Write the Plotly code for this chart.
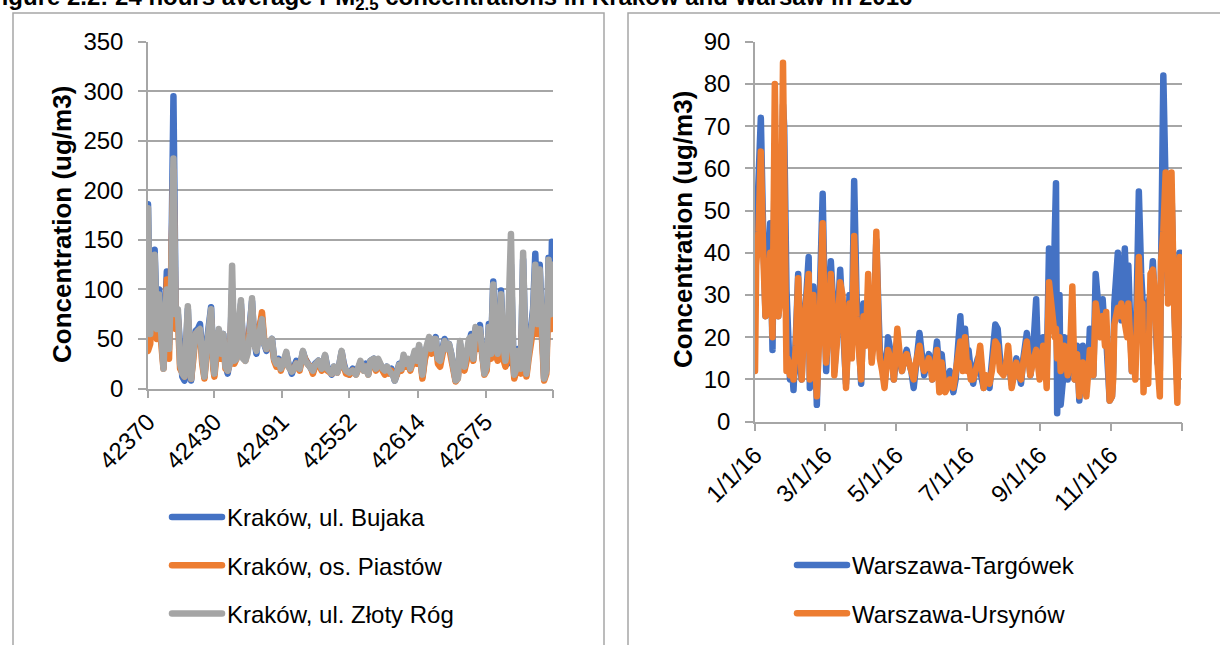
import plotly.graph_objects as go
import pandas as pd

W, H = 1220, 645
FONT = "Liberation Sans"
BLUE, ORANGE, GRAY = "#4472C4", "#ED7D31", "#A5A5A5"
GRID = "#A6A6A6"

# ---------------- Kraków (day offsets from Excel serial 42370 = 2016-01-01) ----------------
krk_days = [0, 2, 4, 6, 8, 10, 12, 14, 16, 17,
            19, 21, 23, 25, 27, 29, 31, 33, 36, 38,
            39, 41, 43, 45, 47, 49, 51, 53, 55, 57,
            59, 60, 62, 64, 66, 68, 70, 72, 74, 76,
            78, 80, 82, 84, 86, 88, 90, 92, 94, 96,
            98, 100, 103, 105, 107, 110, 112, 114, 116, 118,
            120, 122, 125, 127, 130, 132, 134, 137, 140, 142,
            144, 147, 149, 151, 154, 157, 160, 162, 164, 166,
            168, 171, 173, 175, 177, 179, 182, 185, 188, 190,
            192, 195, 197, 199, 201, 204, 206, 208, 210, 212,
            214, 216, 218, 220, 222, 223, 225, 227, 229, 231,
            233, 235, 237, 239, 241, 243, 245, 247, 248, 250,
            252, 254, 256, 258, 260, 262, 264, 266, 268, 270,
            272, 274, 276, 278, 280, 282, 284, 286, 288, 290,
            292, 294, 296, 298, 300, 302, 304, 306, 308, 310,
            312, 314, 316, 318, 319, 321, 323, 325, 328, 330,
            331, 333, 335, 337, 339, 341, 342, 344, 346, 348,
            350, 352, 354, 356, 358, 360, 362, 364, 365]

krk_bujaka = [186, 60, 110, 140, 70, 100, 60, 22, 90, 118,
              45, 120, 295, 80, 75, 30, 12, 8, 80, 15,
              8, 40, 58, 60, 65, 35, 12, 45, 60, 82,
              30, 15, 50, 58, 40, 55, 25, 15, 30, 100,
              30, 35, 60, 85, 40, 30, 40, 60, 88, 50,
              35, 60, 72, 45, 38, 45, 50, 30, 25, 30,
              20, 25, 35, 25, 15, 22, 28, 20, 37, 30,
              27, 22, 17, 25, 28, 20, 33, 22, 18, 14,
              22, 18, 25, 37, 25, 17, 14, 20, 15, 22,
              26, 20, 25, 15, 28, 30, 20, 28, 24, 20,
              16, 22, 17, 20, 10, 8, 15, 25, 20, 32,
              24, 28, 20, 30, 36, 28, 42, 25, 12, 30,
              45, 50, 38, 48, 52, 30, 25, 40, 50, 42,
              45, 35, 22, 8, 12, 45, 30, 20, 32, 48,
              55, 35, 60, 48, 64, 35, 18, 20, 65, 40,
              108, 50, 40, 75, 99, 50, 30, 25, 125, 40,
              12, 25, 40, 20, 130, 45, 15, 40, 62, 80,
              136, 70, 125, 40, 10, 20, 132, 80, 148]

krk_piastow = [38, 45, 80, 70, 50, 75, 45, 20, 60, 110,
               30, 100, 220, 60, 70, 20, 15, 12, 70, 10,
               10, 30, 55, 50, 55, 25, 10, 35, 50, 70,
               20, 12, 35, 50, 30, 50, 20, 18, 25, 95,
               25, 30, 55, 80, 35, 28, 40, 55, 80, 45,
               40, 55, 77, 50, 40, 45, 45, 28, 22, 28,
               18, 25, 33, 22, 18, 20, 25, 18, 35, 30,
               25, 22, 15, 22, 26, 18, 30, 18, 17, 15,
               20, 16, 22, 35, 22, 15, 14, 18, 14, 20,
               25, 18, 22, 14, 25, 28, 18, 26, 22, 18,
               14, 20, 15, 18, 12, 10, 14, 22, 18, 30,
               22, 26, 18, 25, 32, 25, 40, 20, 10, 28,
               40, 48, 35, 45, 45, 25, 22, 38, 45, 40,
               42, 30, 18, 7, 10, 40, 28, 18, 28, 42,
               45, 28, 50, 40, 55, 28, 14, 18, 50, 30,
               60, 35, 28, 45, 60, 30, 22, 30, 95, 25,
               10, 18, 30, 15, 100, 30, 12, 30, 45, 60,
               100, 55, 95, 30, 8, 15, 100, 60, 114]

krk_zloty = [182, 55, 100, 135, 60, 95, 55, 20, 80, 100,
             40, 110, 232, 75, 80, 25, 15, 12, 83, 12,
             10, 35, 55, 58, 60, 30, 12, 40, 55, 80,
             25, 15, 45, 60, 35, 55, 22, 18, 25, 124,
             28, 30, 65, 89, 30, 28, 35, 55, 91, 45,
             38, 50, 70, 45, 40, 48, 50, 30, 25, 28,
             20, 25, 37, 22, 17, 20, 25, 20, 38, 28,
             25, 22, 18, 24, 28, 20, 34, 20, 16, 15,
             22, 16, 25, 38, 22, 18, 16, 18, 14, 20,
             28, 18, 22, 14, 28, 30, 20, 30, 22, 20,
             18, 22, 18, 16, 12, 8, 16, 24, 20, 34,
             25, 30, 20, 30, 38, 28, 44, 22, 14, 35,
             48, 52, 40, 50, 50, 30, 28, 42, 48, 40,
             45, 35, 20, 8, 10, 48, 30, 22, 35, 50,
             52, 30, 62, 55, 60, 30, 15, 22, 62, 35,
             105, 45, 35, 70, 95, 45, 28, 45, 156, 35,
             14, 20, 38, 20, 137, 40, 15, 35, 55, 75,
             125, 65, 120, 35, 10, 18, 130, 75, 125]

krk_start_serial = 42370
krk_end_serial = 42736
krk_tickvals = [42370, 42430, 42491, 42552, 42614, 42675]
krk_ticktext = ["42370", "42430", "42491", "42552", "42614", "42675"]

# ---------------- Warszawa (day offsets from 2016-01-01) ----------------
waw_days = [0, 1, 3, 5, 7, 9, 11, 13, 15, 17,
            19, 20, 22, 24, 25, 27, 28, 30, 32, 33,
            35, 37, 39, 40, 42, 44, 46, 47, 49, 50,
            52, 53, 55, 57, 58, 60, 61, 63, 65, 67,
            68, 70, 72, 73, 75, 77, 78, 80, 81, 83,
            85, 87, 89, 91, 93, 95, 97, 99, 100, 102,
            104, 106, 107, 109, 111, 113, 114, 116, 118, 119,
            121, 122, 124, 126, 128, 130, 132, 134, 136, 138,
            141, 143, 145, 147, 149, 151, 152, 154, 156, 158,
            160, 162, 163, 165, 167, 170, 172, 173, 175, 176,
            178, 180, 182, 183, 185, 187, 189, 191, 193, 195,
            196, 198, 200, 201, 203, 205, 206, 208, 210, 213,
            215, 217, 219, 220, 222, 224, 226, 228, 230, 233,
            234, 236, 238, 239, 241, 242, 244, 246, 247, 249,
            250, 252, 254, 256, 257, 258, 259, 260, 261, 262,
            264, 265, 267, 268, 270, 272, 273, 274, 276, 278,
            279, 281, 282, 284, 286, 287, 289, 290, 292, 293,
            295, 296, 298, 300, 301, 303, 304, 306, 307, 308,
            310, 311, 313, 314, 316, 317, 319, 320, 322, 323,
            325, 326, 328, 329, 331, 332, 333, 335, 337, 339,
            341, 343, 345, 347, 348, 350, 352, 354, 355, 357,
            359, 361, 362, 364, 365]

waw_targowek = [35, 45, 55, 72, 45, 25, 35, 47, 17, 65,
                30, 25, 40, 75, 70, 31, 20, 10, 12, 7.5,
                20, 35, 12, 10, 25, 30, 39, 8, 25, 32,
                15, 4, 25, 50, 54, 25, 12, 25, 38, 28,
                12, 20, 30, 36, 25, 15, 9, 22, 30, 20,
                57, 30, 20, 9, 28, 20, 30, 20, 15, 25,
                43, 25, 17, 14, 9, 15, 20, 17, 14, 10,
                15, 18, 15, 12, 15, 17, 14, 12, 8, 15,
                21, 16, 11, 14, 16, 13, 10, 14, 19, 12,
                16, 10, 8, 9, 12, 7, 10, 14, 20, 25,
                15, 22, 15, 17, 12, 9, 13, 15, 12, 10,
                8, 10, 9, 8, 14, 20, 23, 22, 15, 12,
                14, 15, 11, 9, 12, 15, 12, 9, 15, 21,
                18, 11, 15, 20, 29, 20, 12, 16, 20, 15,
                11, 41, 35, 30, 45, 56.5, 2, 15, 30, 4,
                10, 20, 15, 10, 20, 15, 18, 10, 18, 5,
                10, 18, 15, 10, 15, 22, 15, 11, 35, 30,
                25, 22, 29, 20, 20, 10, 5, 6, 12, 28,
                35, 40, 30, 24, 35, 41, 25, 37, 20, 12,
                25, 15, 40, 54.5, 35, 30, 15, 25, 28, 30,
                38, 20, 14, 12, 30, 82, 55, 30, 45, 55,
                30, 15, 8, 40, 40]

waw_ursynow = [12, 37, 45, 64, 40, 25, 28, 40, 20, 80,
               40, 25, 30, 85, 60, 12, 15, 11, 14, 10,
               18, 34, 15, 10, 22, 28, 35, 10, 20, 30,
               12, 6, 20, 42, 47, 20, 14, 22, 35, 25,
               11, 18, 28, 33, 30, 12, 8, 20, 28, 15,
               44, 25, 18, 10, 25, 18, 35, 22, 14, 20,
               45, 20, 15, 12, 8, 14, 17, 15, 13, 10,
               18, 22, 16, 12, 15, 16, 14, 12, 10, 14,
               18, 14, 12, 13, 15, 12, 10, 12, 17, 7,
               14, 9, 7, 8, 10, 8, 11, 14, 17, 19,
               12, 20, 12, 14, 10, 10, 12, 14, 18, 12,
               8, 11, 10, 9, 12, 17, 19, 18, 12, 11,
               13, 18, 10, 8, 11, 14, 11, 10, 14, 19,
               16, 11, 14, 15, 17, 15, 10, 15, 18, 13,
               8, 33, 28, 25, 20, 22, 15, 18, 20, 12,
               15, 18, 14, 11, 16, 32, 20, 10, 16, 6,
               10, 14, 12, 6, 13, 17, 14, 11, 28, 25,
               22, 20, 25, 18, 26, 8, 5, 6, 10, 23,
               27, 27, 25, 28, 25, 22, 20, 28, 15, 12,
               15, 10, 30, 39, 25, 28, 7, 20, 9, 35,
               36, 30, 14, 6, 38, 45, 59, 28, 40, 59,
               30, 10, 4.5, 39, 38]

waw_start = "2016-01-01"
waw_end = "2017-01-01"
waw_tickvals = ["2016-01-01", "2016-03-01", "2016-05-01", "2016-07-01",
                "2016-09-01", "2016-11-01"]
waw_ticktext = ["1/1/16", "3/1/16", "5/1/16", "7/1/16", "9/1/16", "11/1/16"]

assert len(krk_days) == len(krk_bujaka) == len(krk_piastow) == len(krk_zloty)
assert len(waw_days) == len(waw_targowek) == len(waw_ursynow)

krk_x = [krk_start_serial + d for d in krk_days]
waw_x = pd.to_datetime(waw_start) + pd.to_timedelta(waw_days, unit="D")


def fx(p):
    return p / W


def fy(p):
    return 1 - p / H


fig = go.Figure()
for name, vals, col in [("Kraków, ul. Bujaka", krk_bujaka, BLUE),
                        ("Kraków, os. Piastów", krk_piastow, ORANGE),
                        ("Kraków, ul. Złoty Róg", krk_zloty, GRAY)]:
    fig.add_trace(go.Scatter(x=krk_x, y=vals, mode="lines", name=name,
                             line=dict(color=col, width=6.5),
                             xaxis="x", yaxis="y", legend="legend", legendgroup=name))
for name, vals, col in [("Warszawa-Targówek", waw_targowek, BLUE),
                        ("Warszawa-Ursynów", waw_ursynow, ORANGE)]:
    fig.add_trace(go.Scatter(x=waw_x, y=vals, mode="lines", name=name,
                             line=dict(color=col, width=6.5),
                             xaxis="x2", yaxis="y2", legend="legend2", legendgroup=name))

axis_common = dict(showline=True, linecolor=GRID, linewidth=1.5, ticks="outside",
                   ticklen=8, tickcolor=GRID, tickwidth=1.5, zeroline=False,
                   automargin=False,
                   tickfont=dict(family=FONT, size=24, color="black"))

fig.update_layout(
    width=W, height=H, margin=dict(l=0, r=0, t=0, b=0, autoexpand=False),
    paper_bgcolor="white", plot_bgcolor="white",
    font=dict(family=FONT, size=24, color="black"),
    xaxis=dict(domain=[fx(148), fx(553)], range=[krk_start_serial, krk_end_serial],
               tickmode="array", tickvals=krk_tickvals, ticktext=krk_ticktext,
               tickangle=-45, showgrid=False, anchor="y",
               minor=dict(tickmode="array", tickvals=[krk_end_serial], ticks="outside",
                          ticklen=8, tickcolor=GRID, tickwidth=1.5, showgrid=False),
               **axis_common),
    yaxis=dict(domain=[fy(388.5), fy(41.7)], range=[0, 350], dtick=50,
               showgrid=True, gridcolor=GRID, gridwidth=1.5, anchor="x",
               ticklabelstandoff=10, **axis_common),
    xaxis2=dict(domain=[fx(755), fx(1182)], type="date",
                range=[waw_start, waw_end], tickmode="array",
                tickvals=waw_tickvals, ticktext=waw_ticktext, tickangle=-45,
                showgrid=False, anchor="y2",
                minor=dict(tickmode="array", tickvals=[waw_end], ticks="outside",
                           ticklen=8, tickcolor=GRID, tickwidth=1.5, showgrid=False),
                **axis_common),
    yaxis2=dict(domain=[fy(421.7), fy(41.7)], range=[0, 90], dtick=10,
                showgrid=True, gridcolor=GRID, gridwidth=1.5, anchor="x2",
                ticklabelstandoff=10, **axis_common),
    legend=dict(x=fx(167), xanchor="left", y=fy(495), yanchor="top",
                tracegroupgap=14, itemwidth=50, bgcolor="rgba(0,0,0,0)",
                font=dict(family=FONT, size=24, color="black")),
    legend2=dict(x=fx(792), xanchor="left", y=fy(543), yanchor="top",
                 tracegroupgap=14, itemwidth=50, bgcolor="rgba(0,0,0,0)",
                 font=dict(family=FONT, size=24, color="black")),
    showlegend=True,
)

# panel frames
fig.add_shape(type="rect", xref="paper", yref="paper",
              x0=fx(13), x1=fx(604), y0=fy(700), y1=fy(13),
              line=dict(color=GRID, width=1.5), fillcolor="rgba(0,0,0,0)", layer="below")
fig.add_shape(type="rect", xref="paper", yref="paper",
              x0=fx(628), x1=fx(1240), y0=fy(700), y1=fy(13),
              line=dict(color=GRID, width=1.5), fillcolor="rgba(0,0,0,0)", layer="below")

# caption (cut off at the top, as in the source)
fig.add_annotation(text="<b>Figure 2.2: 24 hours average PM<sub>2.5</sub> concentrations in Kraków and Warsaw in 2016</b>",
                   xref="paper", yref="paper", x=fx(-15), y=fy(16),
                   xanchor="left", yanchor="bottom", showarrow=False,
                   font=dict(family=FONT, size=24, color="black"))

# axis titles
for xc, yc in [(62, 225), (683, 230)]:
    fig.add_annotation(text="<b>Concentration (ug/m3)</b>", textangle=-90,
                       xref="paper", yref="paper", x=fx(xc), y=fy(yc),
                       xanchor="center", yanchor="middle", showarrow=False,
                       font=dict(family=FONT, size=26, color="black"))

post = """
var gd = document.getElementById('{plot_id}');
function roundJoins() {
  gd.querySelectorAll('path.js-line').forEach(function (p) {
    p.style.strokeLinejoin = 'round';
    p.style.strokeLinecap = 'round';
  });
}
roundJoins();
setTimeout(roundJoins, 50);
setTimeout(roundJoins, 300);
try { gd.on('plotly_afterplot', roundJoins); } catch (e) {}
document.body.style.margin = '0';
"""

fig.write_html("out.html", post_script=post, config={"displayModeBar": False})
